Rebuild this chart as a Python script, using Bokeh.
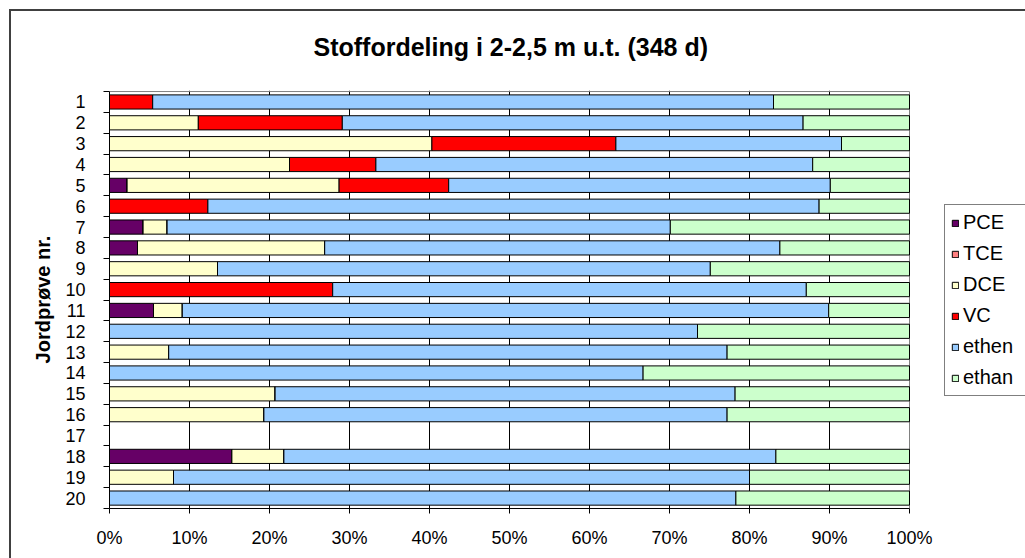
from bokeh.plotting import figure
from bokeh.models import (Range1d, FixedTicker, PrintfTickFormatter, Legend,
                          LegendItem, ColumnDataSource)
from bokeh.embed import file_html
from bokeh.resources import INLINE

# ---- data (percent of total, per soil sample) ----
samples = [str(i) for i in range(1, 21)]
sample_pos = list(range(1, 21))
PCE   = [0, 0, 0, 0, 2.2, 0, 4.2, 3.5, 0, 0, 5.5, 0, 0, 0, 0, 0, 0, 15.3, 0, 0]
TCE   = [0, 0, 0, 0, 0, 0, 0, 0, 0, 0, 0, 0, 0, 0, 0, 0, 0, 0, 0, 0]
DCE   = [0, 11.1, 40.3, 22.5, 26.5, 0, 3.0, 23.4, 13.5, 0, 3.6, 0, 7.4, 0, 20.7, 19.3, 0, 6.5, 8.0, 0]
VC    = [5.4, 18.0, 23.0, 10.8, 13.7, 12.3, 0, 0, 0, 27.9, 0, 0, 0, 0, 0, 0, 0, 0, 0, 0]
ethen = [77.6, 57.6, 28.2, 54.6, 47.7, 76.4, 62.9, 56.9, 61.6, 59.2, 80.8, 73.5, 69.8, 66.7, 57.5, 57.9, 0, 61.5, 72.0, 78.3]
ethan = [17.0, 13.3, 8.5, 12.1, 9.9, 11.3, 29.9, 16.2, 24.9, 12.9, 10.1, 26.5, 22.8, 33.3, 21.8, 22.8, 0, 16.7, 20.0, 21.7]
series_names = ["PCE", "TCE", "DCE", "VC", "ethen", "ethan"]
series_colors = ["#660066", "#FF8080", "#FFFFCC", "#FF0000", "#99CCFF", "#CCFFCC"]
x_ticks = [0, 10, 20, 30, 40, 50, 60, 70, 80, 90, 100]

title_text = "Stoffordeling i 2-2,5 m u.t. (348 d)"
y_title = "Jordprøve nr."

FONT = "Liberation Sans"

# layout (pixels)
W, H = 1025, 558
LEFT, TOP, BOTTOM = 109, 88, 50
PLOT_W = 800                      # pixel width of the 0..100 % plot area
x_lo, x_hi = x_ticks[0], x_ticks[-1]
x_end = x_hi * (W - LEFT) / PLOT_W  # frame reaches the right edge (room for legend)
y_top, y_bot = sample_pos[0] - 0.5, sample_pos[-1] + 0.5

source = ColumnDataSource(dict(y=sample_pos, PCE=PCE, TCE=TCE, DCE=DCE, VC=VC,
                               ethen=ethen, ethan=ethan))

p = figure(width=W, height=H, output_backend="svg", toolbar_location=None,
           x_range=Range1d(x_lo, x_end), y_range=Range1d(y_bot, y_top - 0.05),
           min_border_left=LEFT, min_border_right=0, min_border_top=TOP,
           min_border_bottom=BOTTOM)
p.border_fill_alpha = 0
p.background_fill_color = "white"
p.outline_line_color = None
# outer chart border (left and top edges, 9..11 px from the corner)
p.styles = {
    "background-color": "white",
    "box-shadow": "inset 9px 9px 0 0 white, inset 11px 11px 0 0 #404040",
}

# grid (behind bars)
p.xgrid.ticker = FixedTicker(ticks=x_ticks[1:-1])
p.xgrid.grid_line_color = "black"
p.xgrid.grid_line_width = 1
p.ygrid.grid_line_color = None

# plot-area border (top and right, grey)
p.segment(x0=[x_lo, x_hi], x1=[x_hi, x_hi], y0=[y_top, y_top], y1=[y_top, y_bot],
          line_color="#808080", line_width=1)

renderers = p.hbar_stack(series_names, y="y", height=0.68, source=source,
                         fill_color=series_colors, line_color="black", line_width=1)

# title
p.title.text = title_text
p.title.text_font = FONT
p.title.text_font_style = "bold"
p.title.text_font_size = "25px"
p.title.text_color = "black"
p.title.align = "left"
p.title.offset = 204
p.title.standoff = 60

# x axis
xa = p.xaxis[0]
xa.ticker = FixedTicker(ticks=x_ticks)
xa.formatter = PrintfTickFormatter(format="%d%%")
xa.bounds = (x_lo, x_hi)
xa.major_tick_out = 5
xa.major_tick_in = 0
xa.minor_tick_out = 0
xa.minor_tick_in = 0
xa.major_label_standoff = 14
xa.major_label_text_font = FONT
xa.major_label_text_font_size = "18px"
xa.major_label_text_color = "black"
xa.axis_line_color = "black"
xa.major_tick_line_color = "black"

# y axis: labels at centres, tick marks at category boundaries
ya = p.yaxis[0]
ya.ticker = FixedTicker(ticks=sample_pos, minor_ticks=[i + 0.5 for i in range(0, 21)])
ya.major_label_overrides = {i: s for i, s in zip(sample_pos, samples)}
ya.bounds = (y_top, y_bot)
ya.major_tick_out = 0
ya.major_tick_in = 0
ya.minor_tick_out = 6
ya.minor_tick_in = 0
ya.minor_tick_line_color = "black"
ya.major_label_standoff = 18
ya.major_label_text_font = FONT
ya.major_label_text_font_size = "18px"
ya.major_label_text_color = "black"
ya.axis_line_color = "black"
ya.axis_label = y_title
ya.axis_label_text_font = FONT
ya.axis_label_text_font_style = "bold"
ya.axis_label_text_font_size = "20px"
ya.axis_label_text_color = "black"
ya.axis_label_standoff = 8

# legend (inside the extended frame, right of the plot area)
items = [LegendItem(label=n, renderers=[r]) for n, r in zip(series_names, renderers)]
legend = Legend(items=items, location=(835, 112), border_line_color="black",
                border_line_width=1, background_fill_color="white",
                label_text_font=FONT, label_text_font_size="20px",
                label_text_color="black", glyph_width=8, glyph_height=8,
                label_height=20, label_width=70, spacing=8, padding=6, margin=0,
                label_standoff=4)
p.add_layout(legend)

open("out.html", "w").write(file_html(p, INLINE))
